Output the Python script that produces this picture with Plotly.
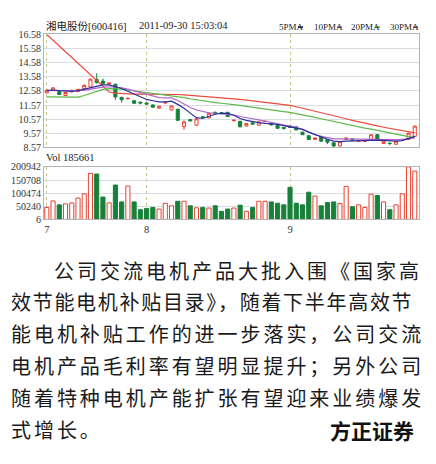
import plotly.graph_objects as go

# page body has an 8px margin; the figure is sized so that it fills the window
OFF = 8
W, H = 436 - OFF, 464 - OFF

# ---------------- data ----------------
july_days = [8, 11, 12, 13, 14, 15, 18, 19, 20, 21, 22, 25, 26, 27, 28, 29]
aug_days = [1, 2, 3, 4, 5, 8, 9, 10, 11, 12, 15, 16, 17, 18, 19, 22, 23, 24, 25, 26, 29, 30, 31]
sep_days = [1, 2, 5, 6, 7, 8, 9, 13, 14, 15, 16, 19, 20, 21, 22, 23, 26, 27, 28, 29, 30]
dates = ([f"2011-07-{d:02d}" for d in july_days] +
         [f"2011-08-{d:02d}" for d in aug_days] +
         [f"2011-09-{d:02d}" for d in sep_days])

open_ = [12.44, 12.62, 12.53, 12.25, 12.51, 12.53, 12.74, 12.86, 13.39, 13.27,
         13.04, 13.05, 12.12, 12.02, 11.88, 11.78, 11.72, 11.58, 11.36, 11.72,
         11.22, 11.28, 10.04, 10.54, 10.15, 10.74, 10.67, 11.06, 11.04, 11.06,
         10.47, 10.42, 10.08, 10.31, 10.15, 10.40, 10.26, 10.15, 9.99, 10.08,
         10.03, 9.65, 9.40, 9.13, 9.35, 9.13, 8.90, 8.67, 9.13, 9.17,
         9.00, 9.00, 9.13, 9.47, 8.85, 8.87, 8.79, 9.11, 9.13, 9.35]
high = [12.66, 12.82, 12.56, 12.48, 12.66, 12.72, 13.05, 13.45, 13.83, 13.46,
        13.18, 13.10, 12.16, 12.08, 11.92, 11.80, 11.75, 11.62, 11.52, 11.82,
        11.55, 11.30, 10.49, 10.58, 10.64, 10.78, 11.02, 11.10, 11.08, 11.08,
        10.51, 10.45, 10.28, 10.34, 10.40, 10.46, 10.28, 10.18, 10.02, 10.10,
        10.05, 9.68, 9.42, 9.26, 9.38, 9.15, 8.92, 8.99, 9.26, 9.20,
        9.06, 9.06, 9.49, 9.50, 9.03, 8.90, 9.03, 9.16, 9.60, 10.10]
low = [12.40, 12.58, 12.30, 12.22, 12.48, 12.50, 12.70, 12.82, 13.09, 13.05,
       13.00, 11.95, 11.75, 11.98, 11.65, 11.62, 11.58, 11.38, 11.30, 11.65,
       11.20, 10.45, 9.81, 10.42, 10.08, 10.66, 10.64, 10.92, 10.93, 10.74,
       10.38, 10.00, 10.05, 10.18, 10.12, 10.36, 10.12, 9.90, 9.82, 9.95,
       9.78, 9.45, 9.10, 9.10, 8.98, 8.80, 8.57, 8.64, 9.10, 9.05,
       8.96, 8.96, 9.10, 9.10, 8.82, 8.72, 8.76, 9.08, 9.10, 9.30]
close = [12.62, 12.79, 12.32, 12.46, 12.62, 12.69, 12.97, 13.41, 13.18, 13.09,
         13.14, 12.15, 11.95, 12.05, 11.70, 11.72, 11.65, 11.42, 11.48, 11.76,
         11.51, 10.49, 10.38, 10.45, 10.60, 10.71, 10.99, 10.94, 10.96, 10.76,
         10.50, 10.03, 10.26, 10.22, 10.38, 10.42, 10.17, 9.92, 9.92, 9.99,
         9.81, 9.47, 9.13, 9.24, 9.01, 8.94, 8.67, 8.97, 9.24, 9.08,
         9.02, 9.02, 9.47, 9.13, 9.01, 8.85, 9.01, 9.14, 9.58, 10.08]
volume = [45900, 70700, 55800, 59500, 63200, 81800, 98000, 176000, 173600, 85600,
          63200, 131400, 67000, 127700, 67000, 37200, 42200, 45900, 39700, 62000,
          52100, 69400, 69400, 52100, 44600, 45900, 43400, 52100, 31000, 39700,
          43400, 54600, 31000, 45900, 69400, 69400, 67000, 62000, 55800, 122800,
          62000, 55800, 104200, 89300, 52100, 64500, 67000, 60800, 126500, 48400,
          55800, 45900, 96700, 91800, 67000, 37200, 55800, 98000, 200942, 184800]

ma5 = [12.62, 12.64, 12.60, 12.56, 12.55, 12.60, 12.70, 12.85, 12.95, 13.00,
       13.00, 12.90, 12.75, 12.55, 12.35, 12.12, 11.97, 11.88, 11.80, 11.80,
       11.85, 11.62, 11.35, 11.00, 10.68, 10.62, 10.75, 10.92, 10.99, 10.98,
       10.85, 10.62, 10.49, 10.40, 10.33, 10.28, 10.25, 10.20, 10.12, 10.03,
       9.97, 9.85, 9.65, 9.47, 9.30, 9.15, 9.02, 8.98, 9.01, 9.03,
       9.04, 9.05, 9.06, 9.08, 9.07, 9.04, 9.02, 9.05, 9.18, 9.35]
ma10 = [12.60, 12.60, 12.60, 12.58, 12.57, 12.58, 12.62, 12.70, 12.78, 12.84,
        12.87, 12.86, 12.80, 12.70, 12.58, 12.45, 12.32, 12.20, 12.10, 12.08,
        12.08, 11.90, 11.62, 11.40, 11.22, 11.10, 11.02, 10.99, 10.96, 10.94,
        10.86, 10.76, 10.66, 10.60, 10.52, 10.42, 10.32, 10.24, 10.16, 10.08,
        10.00, 9.85, 9.66, 9.47, 9.35, 9.25, 9.18, 9.17, 9.16, 9.15,
        9.14, 9.14, 9.13, 9.13, 9.13, 9.13, 9.12, 9.13, 9.17, 9.24]
ma20 = [12.16, 12.15, 12.13, 12.11, 12.10, 12.14, 12.25, 12.40, 12.55, 12.68,
        12.74, 12.74, 12.70, 12.64, 12.58, 12.52, 12.46, 12.40, 12.34, 12.30,
        12.26, 12.18, 12.10, 12.02, 11.94, 11.86, 11.80, 11.74, 11.70, 11.66,
        11.62, 11.55, 11.48, 11.41, 11.35, 11.28, 11.22, 11.16, 11.11, 11.06,
        10.98, 10.89, 10.80, 10.70, 10.60, 10.50, 10.40, 10.30, 10.20, 10.11,
        10.02, 9.94, 9.86, 9.78, 9.70, 9.62, 9.52, 9.42, 9.33, 9.24]
ma30 = [16.58, 16.17, 15.76, 15.35, 14.93, 14.52, 14.11, 13.70, 13.29, 12.88,
        12.50, 12.42, 12.38, 12.36, 12.35, 12.35, 12.35, 12.35, 12.35, 12.35,
        12.35, 12.32, 12.29, 12.26, 12.23, 12.20, 12.16, 12.13, 12.09, 12.05,
        12.02, 11.97, 11.92, 11.87, 11.82, 11.78, 11.73, 11.67, 11.61, 11.55,
        11.45, 11.35, 11.25, 11.15, 11.05, 10.95, 10.83, 10.71, 10.60, 10.49,
        10.38, 10.28, 10.19, 10.09, 10.00, 9.91, 9.83, 9.76, 9.68, 9.60]

price_ticks = [8.57, 9.57, 10.57, 11.57, 12.58, 13.58, 14.58, 15.58, 16.58]
volume_ticks = [6, 50240, 100474, 150708, 200942]
month_ticks = ["2011-07-08", "2011-08-01", "2011-09-01"]
month_labels = ["7", "8", "9"]

title_name = "湘电股份[600416]"
title_time = "2011-09-30 15:03:04"
vol_label = "Vol 185661"
ma_names = ["5PMA", "10PMA", "20PMA", "30PMA"]
ma_colors = ["#2b2f9e", "#b366c4", "#5cb84a", "#ec4a3c"]

body_lines = ["公司交流电机产品大批入围《国家高",
              "效节能电机补贴目录》，随着下半年高效节",
              "能电机补贴工作的进一步落实，公司交流",
              "电机产品毛利率有望明显提升；另外公司",
              "随着特种电机产能扩张有望迎来业绩爆发",
              "式增长。"]
source_text = "方正证券"

# ---------------- figure ----------------
UP = "#e8402f"
DOWN = "#17813a"
CHART_FONT = "Liberation Serif"


def px(x):
    return (x - OFF) / W


def py(y):
    return 1 - (y - OFF) / H


fig = go.Figure()

fig.add_trace(go.Candlestick(
    x=dates, open=open_, high=high, low=low, close=close,
    increasing=dict(line=dict(color=UP, width=1), fillcolor="#ffffff"),
    decreasing=dict(line=dict(color=DOWN, width=1), fillcolor=DOWN),
    whiskerwidth=0, xaxis="x", yaxis="y", showlegend=False,
))

for vals, col in zip([ma30, ma20, ma10, ma5], ma_colors[::-1]):
    fig.add_trace(go.Scatter(x=dates, y=vals, mode="lines",
                             line=dict(color=col, width=1.2),
                             xaxis="x", yaxis="y", showlegend=False))

up_flags = [c >= o for o, c in zip(open_, close)]
fig.add_trace(go.Bar(
    x=dates, y=volume, xaxis="x2", yaxis="y2", width=0.66,
    marker=dict(color=["#ffffff" if u else DOWN for u in up_flags],
                line=dict(color=[UP if u else DOWN for u in up_flags], width=1)),
    showlegend=False,
))

xdom = [px(44), px(418.5)]
xrange_ = [-0.45, 59.6]
common_x = dict(type="category", categoryorder="array", categoryarray=dates,
                range=xrange_, showgrid=True, gridcolor="#c9c98c", griddash="dot",
                gridwidth=1, tickvals=month_ticks, showline=True, mirror=True,
                linecolor="#b4b4b4", linewidth=1, zeroline=False, ticks="",
                fixedrange=True)
common_y = dict(showgrid=True, gridcolor="#d8dce3", gridwidth=1, showline=True,
                mirror=True, linecolor="#b4b4b4", linewidth=1, zeroline=False,
                ticks="", tickfont=dict(family=CHART_FONT, size=10, color="#333"))

fig.update_layout(
    width=W, height=H, margin=dict(l=0, r=0, t=0, b=0),
    paper_bgcolor="white", plot_bgcolor="white",
    showlegend=False, bargap=0.3,
    xaxis=dict(domain=xdom, anchor="y", showticklabels=False,
               rangeslider=dict(visible=False), **common_x),
    xaxis2=dict(domain=xdom, anchor="y2", ticktext=month_labels,
                tickfont=dict(family=CHART_FONT, size=10.5, color="#333"),
                **common_x),
    yaxis=dict(domain=[py(145), py(29)], range=[8.57, 16.58], anchor="x",
               tickvals=price_ticks, ticktext=[f"{v:.2f}" for v in price_ticks],
               **common_y),
    yaxis2=dict(domain=[py(219), py(165)], range=[0, 200942], anchor="x2",
                tickvals=volume_ticks, ticktext=[str(v) for v in volume_ticks],
                **common_y),
)

ann = []
ann.append(dict(text=title_name, x=px(44), y=py(20), xref="paper", yref="paper",
                xanchor="left", yanchor="middle", showarrow=False,
                font=dict(family="Liberation Serif, Noto Sans CJK SC", size=10.5, color="#222")))
ann.append(dict(text=title_time, x=px(137), y=py(20), xref="paper", yref="paper",
                xanchor="left", yanchor="middle", showarrow=False,
                font=dict(family=CHART_FONT, size=10.5, color="#222")))
legend_x = [277, 312, 349, 388]
shapes = []
for name, col, lx in zip(ma_names, ma_colors, legend_x):
    ann.append(dict(text=name, x=px(lx), y=py(21), xref="paper", yref="paper",
                    xanchor="left", yanchor="middle", showarrow=False,
                    font=dict(family=CHART_FONT, size=9, color="#222")))
ann.append(dict(text=vol_label, x=px(44), y=py(155), xref="paper", yref="paper",
                xanchor="left", yanchor="middle", showarrow=False,
                font=dict(family=CHART_FONT, size=10.5, color="#222")))

dash_x = [298, 337, 375, 413]
for col, dx in zip(ma_colors, dash_x):
    shapes.append(dict(type="rect", xref="paper", yref="paper",
                       x0=px(dx), x1=px(dx + 5), y0=py(22.5), y1=py(20.5),
                       fillcolor=col, line=dict(width=0)))

BODY_FONT = "Noto Sans CJK SC"
body_pos = [(52, 271, 3.0), (9, 303, 1.7), (9, 336, 2.95),
            (9, 369, 2.95), (9, 402, 2.95), (9, 435, 2.95)]
for line, (bx, by, sp) in zip(body_lines, body_pos):
    ann.append(dict(text=f'<span style="letter-spacing:{sp}px">{line}</span>',
                    x=px(bx), y=py(by), xref="paper", yref="paper",
                    xanchor="left", yanchor="middle", showarrow=False,
                    font=dict(family=BODY_FONT, size=20, color="#1a1a1a")))
ann.append(dict(text=f"<b>{source_text}</b>", x=px(416), y=py(435),
                xref="paper", yref="paper", xanchor="right", yanchor="middle",
                showarrow=False,
                font=dict(family=BODY_FONT, size=21, color="#111")))

fig.update_layout(annotations=ann, shapes=shapes)

fig.write_html("out.html")
